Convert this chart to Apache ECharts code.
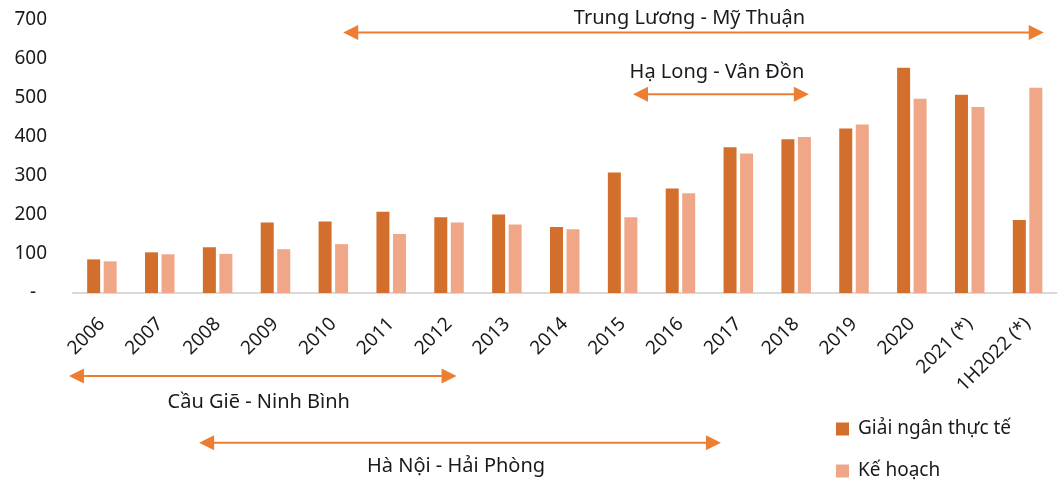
<!DOCTYPE html>
<html><head><meta charset="utf-8">
<script src="https://cdn.jsdelivr.net/npm/echarts@6/dist/echarts.min.js"></script>
<style>html,body{margin:0;padding:0;background:#fff}#c{width:1063px;height:485px}</style>
</head><body><div id="c"></div>
<script>
const categories = ['2006','2007','2008','2009','2010','2011','2012','2013','2014','2015','2016','2017','2018','2019','2020','2021 (*)','1H2022 (*)'];
const actual = [86,104,117,180,183,208,194,201,169,308,267,373,393,421,576,507,187];
const plan = [81,99,100,112,125,151,180,175,163,194,255,357,399,431,497,476,525];
const seriesNames = ['Giải ngân thực tế','Kế hoạch'];
// annotation spans: start/end in category-index units, level in axis value units
const annotNames = ['Trung Lương - Mỹ Thuận','Hạ Long - Vân Đồn','Cầu Giẽ - Ninh Bình','Hà Nội - Hải Phòng'];
const annotStart = [4.17, 9.18, -0.57, 1.68];
const annotEnd = [16.28, 12.22, 6.13, 10.70];
const annotLevel = [666, 508, -212, -383];

const FONT = 'Noto Sans';
const chart = echarts.init(document.getElementById('c'), null, {renderer:'canvas'});
const legendBase = {
  orient:'vertical', left:836, padding:0, itemWidth:13, itemHeight:13,
  icon:'rect',
  textStyle:{fontFamily:FONT,fontSize:19,color:'#1a1a1a',lineHeight:24,padding:[0,0,0,4]}
};
const option = {
  animation:false,
  backgroundColor:'#fff',
  textStyle:{fontFamily:FONT},
  grid:{left:73,right:6.5,top:19.3,bottom:192,containLabel:false},
  legend:[
    Object.assign({}, legendBase, {top:417, data:[seriesNames[0]]}),
    Object.assign({}, legendBase, {top:459, data:[seriesNames[1]]})
  ],
  xAxis:{
    type:'category', data:categories,
    axisLine:{lineStyle:{color:'#D9D9D9',width:2}},
    axisTick:{show:false},
    axisLabel:{rotate:45,interval:0,margin:28,fontSize:19,color:'#1a1a1a',fontFamily:FONT}
  },
  yAxis:{
    type:'value', min:0, max:700, interval:100,
    splitLine:{show:false}, axisLine:{show:false}, axisTick:{show:false},
    axisLabel:{margin:26,fontSize:19,color:'#1a1a1a',fontFamily:FONT,
      formatter:function(v){return v===0?'{d|-}':String(v);},
      rich:{d:{fontSize:19,color:'#1a1a1a',padding:[0,11,0,0],fontFamily:FONT}}}
  },
  series:[
    {name:seriesNames[0],type:'bar',data:actual,barWidth:13,barGap:'27%',
     itemStyle:{color:'#D36F2C'}},
    {name:seriesNames[1],type:'bar',data:plan,barWidth:13,
     itemStyle:{color:'#F0A788'}}
  ]
};
chart.setOption(option);

const p00 = chart.convertToPixel({gridIndex:0},[0,0]);
const p1h = chart.convertToPixel({gridIndex:0},[1,100]);
const px = i => p00[0] + i*(p1h[0]-p00[0]);
const py = v => p00[1] + v/100*(p1h[1]-p00[1]);
const ARROW = '#ED7D31';
const HL = 15, HW = 7.5;
const labelDy = [-14,-22,26,24];
const g = [];
annotNames.forEach((name,k)=>{
  const xa = px(annotStart[k]), xb = px(annotEnd[k]), y = py(annotLevel[k]);
  g.push({type:'line',shape:{x1:xa+HL-1,y1:y,x2:xb-HL+1,y2:y},style:{stroke:ARROW,lineWidth:2}});
  g.push({type:'polygon',shape:{points:[[xa,y],[xa+HL,y-HW],[xa+HL,y+HW]]},style:{fill:ARROW}});
  g.push({type:'polygon',shape:{points:[[xb,y],[xb-HL,y-HW],[xb-HL,y+HW]]},style:{fill:ARROW}});
  g.push({type:'text',x:(xa+xb)/2 - 4,y:y+labelDy[k],style:{text:name,fill:'#1a1a1a',font:'20px "Noto Sans"',textAlign:'center',textVerticalAlign:'middle'}});
});
chart.setOption({graphic:g});
</script></body></html>
